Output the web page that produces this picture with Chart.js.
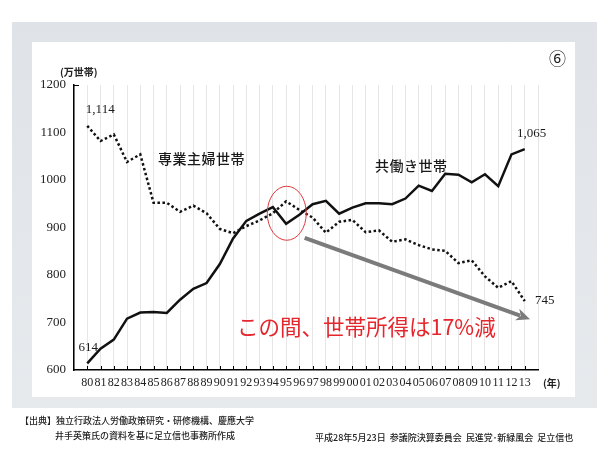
<!DOCTYPE html>
<html lang="ja">
<head>
<meta charset="utf-8">
<script src="https://cdn.jsdelivr.net/npm/chart.js@4"></script>
<style>
  html, body { margin: 0; padding: 0; background: #fff; }
  body { width: 608px; height: 456px; position: relative; overflow: hidden; font-family: "Noto Sans CJK JP", sans-serif; color: #222; }
  .frame { position: absolute; left: 12px; top: 22px; width: 585px; height: 386px; background: linear-gradient(#dfe3e7, #e7eaed); }
  .panel { position: absolute; left: 32px; top: 42px; width: 543px; height: 355px; background: #fff; }
  canvas { position: absolute; left: 0; top: 0; }
  .t { position: absolute; white-space: nowrap; line-height: 1; }
  .series { font-size: 14px; font-weight: 500; letter-spacing: 0.5px; color: #1a1a1a; }
  .red { font-size: 21.5px; color: #e5262c; font-weight: 400; }
  .unit { font-size: 10px; font-weight: 700; }
  .foot { font-size: 9px; font-weight: 500; color: #222; }
</style>
</head>
<body>
<div class="frame"></div>
<div class="panel"></div>
<canvas id="chart" width="608" height="456"></canvas>

<div class="t unit" style="left:60px; top:67px;">(万世帯)</div>
<div class="t unit" style="left:543px; top:378px;">(年)</div>
<div class="t" style="left:549px; top:49px; font-size:17px;">⑥</div>
<div class="t series" style="left:158px; top:151px;">専業主婦世帯</div>
<div class="t series" style="left:375px; top:158px;">共働き世帯</div>
<div class="t red" style="left:237px; top:315px;">この間、世帯所得は17%減</div>

<div class="t foot" style="left:20px; top:416px;">【出典】独立行政法人労働政策研究・研修機構、慶應大学</div>
<div class="t foot" style="left:55px; top:431px;">井手英策氏の資料を基に足立信也事務所作成</div>
<div class="t foot" style="left:315px; top:433px;">平成28年5月23日&nbsp; 参議院決算委員会&nbsp; 民進党･新緑風会&nbsp; 足立信也</div>

<script>
const years = [1980, 1981, 1982, 1983, 1984, 1985, 1986, 1987, 1988, 1989,
  1990, 1991, 1992, 1993, 1994, 1995, 1996, 1997, 1998, 1999,
  2000, 2001, 2002, 2003, 2004, 2005, 2006, 2007, 2008, 2009,
  2010, 2011, 2012, 2013];

// 共働き世帯 (万世帯)
const dualIncome = [614, 645, 664, 708, 721, 722, 720, 748, 771, 783,
  823, 877, 914, 929, 943, 908, 927, 949, 956, 929,
  942, 951, 951, 949, 961, 988, 977, 1013, 1011, 995,
  1012, 987, 1054, 1065];

// 専業主婦世帯 (万世帯)
const housewife = [1114, 1082, 1096, 1038, 1054, 952, 952, 933, 946, 930,
  897, 888, 903, 915, 930, 955, 937, 921, 889, 912,
  916, 890, 894, 870, 875, 863, 854, 851, 825, 831,
  797, 773, 787, 745];

const yTicks = [600, 700, 800, 900, 1000, 1100, 1200];

const NUM_FONT = '"Liberation Serif", "DejaVu Serif", serif';

const toPoints = vals => vals.map((v, i) => ({ x: years[i], y: v }));

// annotations: tick marks, red circle, grey arrow, end labels
const decor = {
  id: 'decor',
  afterDatasetsDraw(chart) {
    const { ctx, scales: { x, y }, chartArea: a } = chart;
    ctx.save();

    // inward tick marks
    ctx.strokeStyle = '#000';
    ctx.lineWidth = 1;
    ctx.beginPath();
    for (const yr of years) {
      const px = Math.round(x.getPixelForValue(yr)) + 0.5;
      ctx.moveTo(px, a.bottom);
      ctx.lineTo(px, a.bottom - 4);
    }
    ctx.moveTo(a.left, a.top + 0.5);
    ctx.lineTo(a.left + 5, a.top + 0.5);
    ctx.stroke();

    // red ellipse around 1995
    ctx.strokeStyle = '#e0393c';
    ctx.lineWidth = 1;
    ctx.beginPath();
    ctx.ellipse(x.getPixelForValue(1995.05), y.getPixelForValue(930), 19.5, 27, 0, 0, Math.PI * 2);
    ctx.stroke();

    // grey arrow
    const x0 = x.getPixelForValue(1996.4), y0 = y.getPixelForValue(878);
    const x1 = x.getPixelForValue(2013.4), y1 = y.getPixelForValue(707);
    const ang = Math.atan2(y1 - y0, x1 - x0);
    const head = 15;
    ctx.strokeStyle = '#7b7b7b';
    ctx.fillStyle = '#7b7b7b';
    ctx.lineWidth = 4;
    ctx.beginPath();
    ctx.moveTo(x0, y0);
    ctx.lineTo(x1 - Math.cos(ang) * head * 0.7, y1 - Math.sin(ang) * head * 0.7);
    ctx.stroke();
    ctx.beginPath();
    ctx.moveTo(x1, y1);
    ctx.lineTo(x1 - Math.cos(ang - 0.42) * head, y1 - Math.sin(ang - 0.42) * head);
    ctx.lineTo(x1 - Math.cos(ang) * head * 0.65, y1 - Math.sin(ang) * head * 0.65);
    ctx.lineTo(x1 - Math.cos(ang + 0.42) * head, y1 - Math.sin(ang + 0.42) * head);
    ctx.closePath();
    ctx.fill();

    // value labels at series ends
    const last = years.length - 1;
    const fmt = v => v.toLocaleString('en-US');
    const label = (yr, v, dx, dy) => {
      ctx.fillText(fmt(v), x.getPixelForValue(yr) + dx, y.getPixelForValue(v) + dy);
    };
    ctx.fillStyle = '#1a1a1a';
    ctx.font = '13px ' + NUM_FONT;
    ctx.textAlign = 'center';
    ctx.textBaseline = 'middle';
    label(years[0], housewife[0], 13, -16);
    label(years[0], dualIncome[0], 1, -16);
    label(years[last], dualIncome[last], 7, -16);
    label(years[last], housewife[last], 20, -1);

    ctx.restore();
  }
};

new Chart(document.getElementById('chart'), {
  type: 'line',
  data: {
    datasets: [
      {
        label: '共働き世帯',
        data: toPoints(dualIncome),
        borderColor: '#111',
        borderWidth: 2.5,
        pointRadius: 0,
        tension: 0
      },
      {
        label: '専業主婦世帯',
        data: toPoints(housewife),
        borderColor: '#111',
        borderWidth: 2.5,
        borderDash: [2.5, 2.5],
        borderCapStyle: 'butt',
        pointRadius: 0,
        tension: 0
      }
    ]
  },
  options: {
    responsive: false,
    animation: false,
    layout: { padding: { left: 0, top: 85, right: 70, bottom: 0 } },
    plugins: { legend: { display: false }, tooltip: { enabled: false } },
    scales: {
      x: {
        type: 'linear',
        min: 1979,
        max: 2014,
        afterFit: s => { s.height = 86; },
        afterBuildTicks: s => { s.ticks = [1979, ...years, 2014].map(v => ({ value: v })); },
        grid: { color: '#e6e6e6', lineWidth: 1, drawTicks: false },
        border: { color: '#000', width: 1.5 },
        ticks: {
          autoSkip: false,
          maxRotation: 0,
          padding: 6,
          color: '#222',
          font: { family: NUM_FONT, size: 12 },
          callback: v => (v < 1980 || v > 2013) ? '' : String(v % 100).padStart(2, '0')
        }
      },
      y: {
        min: 600,
        max: 1200,
        afterFit: s => { s.width = 74; },
        afterBuildTicks: s => { s.ticks = yTicks.map(v => ({ value: v })); },
        grid: { display: false, drawTicks: false },
        border: { color: '#000', width: 1.5 },
        ticks: {
          padding: 8,
          color: '#222',
          font: { family: NUM_FONT, size: 13 },
          callback: v => String(v)
        }
      }
    }
  },
  plugins: [decor]
});
</script>
</body>
</html>
